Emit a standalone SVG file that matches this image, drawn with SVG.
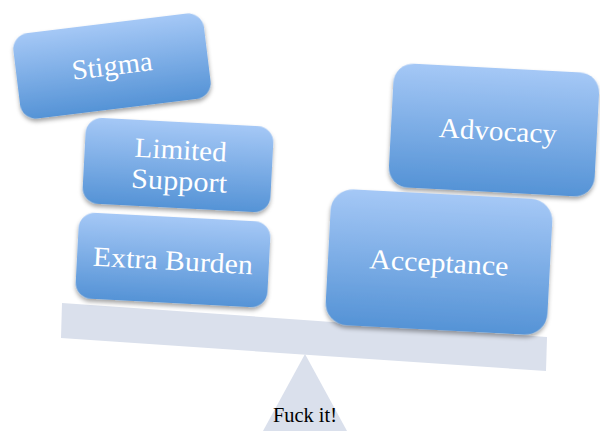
<svg xmlns="http://www.w3.org/2000/svg" width="600" height="431" viewBox="0 0 600 431">
  <defs>
    <linearGradient id="boxFill" x1="0" y1="0" x2="0" y2="1">
      <stop offset="0" stop-color="#a5c8f6"/>
      <stop offset="1" stop-color="#5593d6"/>
    </linearGradient>
    <filter id="shadow" x="-10%" y="-10%" width="120%" height="130%">
      <feDropShadow dx="0" dy="3" stdDeviation="2" flood-color="#000" flood-opacity="0.35"/>
    </filter>
  </defs>
  <style>
    .box { fill: url(#boxFill); filter: url(#shadow); }
    .label { font-family: "Liberation Serif", "DejaVu Serif", serif; font-size: 28px; fill: #ffffff; text-anchor: middle; }
    .scale { fill: #dae0ec; }
    .caption { font-family: "Liberation Serif", "DejaVu Serif", serif; font-size: 20px; fill: #000000; text-anchor: middle; }
  </style>

  <!-- balance: fulcrum and beam -->
  <g id="fulcrum">
    <polygon class="scale" points="305,354 263,431 347,431"/>
  </g>
  <g id="beam">
    <polygon class="scale" points="62,303 547,337 546,371 61,338"/>
  </g>

  <!-- left pan -->
  <g id="stigma" transform="translate(112,66) rotate(-7)">
    <rect class="box" x="-96" y="-43" width="192" height="86" rx="16"/>
    <text class="label" x="0" y="9" textLength="81" lengthAdjust="spacingAndGlyphs">Stigma</text>
  </g>
  <g id="limited-support" transform="translate(178,165) rotate(3)">
    <rect class="box" x="-94" y="-43" width="188" height="86" rx="16"/>
    <text class="label" x="2" y="-6" textLength="92" lengthAdjust="spacingAndGlyphs">Limited</text>
    <text class="label" x="2" y="25" textLength="96" lengthAdjust="spacingAndGlyphs">Support</text>
  </g>
  <g id="extra-burden" transform="translate(173,260) rotate(3)">
    <rect class="box" x="-96" y="-43" width="192" height="86" rx="16"/>
    <text class="label" x="0" y="10" textLength="160" lengthAdjust="spacingAndGlyphs">Extra Burden</text>
  </g>

  <!-- right pan -->
  <g id="advocacy" transform="translate(494,130) rotate(3)">
    <rect class="box" x="-103" y="-62" width="206" height="124" rx="20"/>
    <text class="label" x="4" y="10" textLength="118" lengthAdjust="spacingAndGlyphs">Advocacy</text>
  </g>
  <g id="acceptance" transform="translate(439,262) rotate(3)">
    <rect class="box" x="-111" y="-68" width="222" height="136" rx="22"/>
    <text class="label" x="0" y="10" textLength="139" lengthAdjust="spacingAndGlyphs">Acceptance</text>
  </g>

  <g id="caption">
    <text class="caption" x="305" y="422" textLength="64" lengthAdjust="spacingAndGlyphs">Fuck it!</text>
  </g>
</svg>
